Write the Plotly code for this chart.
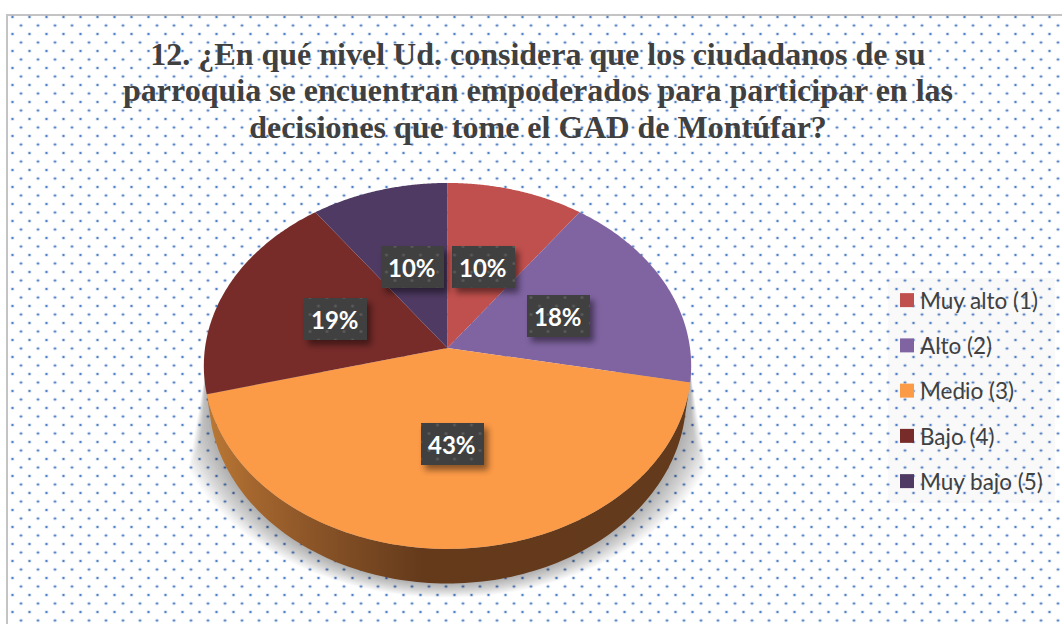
import base64
import numpy as np
import plotly.graph_objects as go

categories = ["Muy alto (1)", "Alto (2)", "Medio (3)", "Bajo (4)", "Muy bajo (5)"]
values = [10, 18, 43, 19, 10]
colors = ["#c0504d", "#8064a2", "#fb9a47", "#772c2a", "#4f3a63"]
title_lines = [
    "12. ¿En qué nivel Ud. considera que los ciudadanos de su",
    "parroquia se encuentran empoderados para participar en las",
    "decisiones que tome el GAD de Montúfar?",
]

# Tilted-disc projection of the pie (pixel-valued axes)
CX, CY = 447.5, 348.0
A, B, K = 242.5, 181.2, 0.098
WALL_DY, WALL_SX, WALL_SY = 30.6, 0.98, 1.02


def project(theta_deg, r=1.0):
    th = np.radians(theta_deg)
    u, v = r * np.sin(th), r * np.cos(th)
    w = 1 + K * v
    return A * u / w, B * v / w


def svg_uri(svg):
    return "data:image/svg+xml;base64," + base64.b64encode(svg.encode()).decode()


def dots(r, fill, opacity=1):
    return "".join(f"<circle cx='{x}' cy='{y}' r='{r}' fill='{fill}' opacity='{opacity}'/>"
                   for x, y in [(0, 0), (17, 0), (0, 17), (17, 17), (8.5, 8.5)])


def dot_svg(x0, y0, w, h):
    return f"""<svg xmlns='http://www.w3.org/2000/svg' width='{w}' height='{h}' viewBox='{x0} {y0} {w} {h}'>
<defs><pattern id='p' x='12.5' y='17' width='17' height='17' patternUnits='userSpaceOnUse'>
{dots(1.9, '#4472c4', .2)}{dots(1.05, '#3067b8')}
</pattern></defs><rect x='{x0}' y='{y0}' width='{w}' height='{h}' fill='url(#p)'/></svg>"""


def label_svg(bx, by, bw, bh, m=14):
    x0, y0, w, h = bx - m, by - m, bw + 2 * m, bh + 2 * m
    return f"""<svg xmlns='http://www.w3.org/2000/svg' width='{w}' height='{h}' viewBox='{x0} {y0} {w} {h}'>
<defs><filter id='b' x='-30%' y='-30%' width='160%' height='160%'><feGaussianBlur stdDeviation='3'/></filter>
<pattern id='d' x='12.5' y='17' width='17' height='17' patternUnits='userSpaceOnUse'>
{dots(1.5, '#5a5a5a')}</pattern></defs>
<rect x='{bx+4}' y='{by+5}' width='{bw}' height='{bh}' fill='#000' opacity='.45' filter='url(#b)'/>
<rect x='{bx}' y='{by}' width='{bw}' height='{bh}' fill='#404040'/>
<rect x='{bx}' y='{by}' width='{bw}' height='{bh}' fill='url(#d)'/></svg>"""


fig = go.Figure()

# Soft shadow under the disc: stacked translucent fills
edges = np.cumsum([0] + values) / sum(values) * 360
arc = np.linspace(edges[2], edges[3], 120)
ax_x, ax_y = project(arc)
low_x, low_y = ax_x * WALL_SX, ax_y * WALL_SY
LAYERS = 14
for i in range(LAYERS):
    f = (i + 1) / LAYERS
    sx = 1 + 0.16 * f
    sy = 1 + 0.075 * f
    px = CX + low_x * sx
    py = np.minimum(CY + WALL_DY + 18 + (-low_y - 18) * sy, 598)
    # the shadow narrows to a point at the two ends of the rim
    left = 205 - (py - 372) * 0.17 * f
    right = 690 + (py - 372) * 0.17 * f
    px = np.clip(px, left, right)
    px = np.concatenate([[CX + 243], px, [CX - 242]])
    py = np.concatenate([[372], py, [372]])
    fig.add_trace(go.Scatter(x=px, y=py, mode="none", fill="toself",
                             fillcolor="rgba(0,0,0,0.022)", showlegend=False, hoverinfo="skip"))

# Rim of the large slice
wall_x = np.concatenate([CX + ax_x, (CX + low_x)[::-1]])
wall_y = np.concatenate([CY - ax_y, (CY + WALL_DY - low_y)[::-1]])
fig.add_trace(go.Scatter(
    x=wall_x, y=wall_y, mode="none", fill="toself", showlegend=False, hoverinfo="skip",
    fillgradient=dict(type="horizontal", start=204, stop=692,
                      colorscale=[[0, "#bd7a35"], [0.1, "#a4662e"], [0.25, "#865126"],
                                  [0.45, "#643a1b"], [1, "#633a1b"]]),
))

# Slices
for i, (name, color) in enumerate(zip(categories, colors)):
    th = np.linspace(edges[i], edges[i + 1], 100)
    dx, dy = project(th)
    fig.add_trace(go.Scatter(
        x=np.concatenate([[CX], CX + dx, [CX]]), y=np.concatenate([[CY], CY - dy, [CY]]),
        mode="none", fill="toself", fillcolor=color, name=name, showlegend=False,
        hoverinfo="text", text=f"{name}: {values[i]}%",
    ))

# Legend entries
for name, color in zip(categories, colors):
    fig.add_trace(go.Scatter(x=[None], y=[None], mode="markers", name=name, legendgroup=name,
                             marker=dict(symbol="square", size=14, color=color)))

# Data labels
BW, BH = 63, 42
images = [dict(source=svg_uri(dot_svg(7, 15, 1055, 609)), xref="x", yref="y", x=7, y=15,
               sizex=1055, sizey=609, sizing="stretch", xanchor="left", yanchor="top", layer="below")]
annotations = []
mids = (edges[:-1] + edges[1:]) / 2
for v, m in zip(values, mids):
    dx, dy = project(m, 0.5)
    lx, ly = round(CX + float(dx)), round(CY + 1 - float(dy))
    bx, by = lx - BW // 2, ly - BH // 2
    mg = 14
    images.append(dict(source=svg_uri(label_svg(bx, by, BW, BH, mg)), xref="x", yref="y",
                       x=bx - mg, y=by - mg, sizex=BW + 2 * mg, sizey=BH + 2 * mg,
                       sizing="stretch", xanchor="left", yanchor="top", layer="above"))
    annotations.append(dict(x=lx, y=ly, xref="x", yref="y", text=f"<b>{v}%</b>", showarrow=False,
                            font=dict(family="Lato", size=24, color="white")))

fig.update_layout(
    width=1062, height=624, margin=dict(l=0, r=0, t=0, b=0),
    paper_bgcolor="white", plot_bgcolor="rgba(0,0,0,0)",
    xaxis=dict(range=[0, 1062], visible=False, fixedrange=True),
    yaxis=dict(range=[624, 0], visible=False, fixedrange=True),
    title=dict(text="<b>" + "<br>".join(title_lines) + "</b>", x=538 / 1062, xanchor="center",
               y=1 - 64.5 / 624, yanchor="top", xref="paper", yref="paper",
               font=dict(family="Liberation Serif", size=32, color="#404040")),
    legend=dict(x=880 / 1062, xanchor="left", y=1 - 279 / 624, yanchor="top",
                bgcolor="rgba(0,0,0,0)", borderwidth=0, traceorder="grouped", tracegroupgap=13,
                font=dict(family="Lato", size=22.5, color="#404040")),
    images=images,
    annotations=annotations,
    shapes=[
        dict(type="rect", xref="x", yref="y", x0=7, y0=15, x1=1075, y1=640,
             line=dict(color="#c4c4c4", width=2), fillcolor="rgba(0,0,0,0)", layer="below"),
        dict(type="rect", xref="x", yref="y", x0=888, y0=278, x1=1055, y1=503,
             line=dict(width=0), fillcolor="rgba(240,240,240,0.4)", layer="below"),
    ],
)

post = """
document.body.style.margin = '0';
document.querySelectorAll('.legend .legendpoints').forEach(function (g) {
  g.setAttribute('transform', 'translate(7,0)');
});
document.querySelectorAll('.gtitle .line').forEach(function (t, i) {
  t.setAttribute('dy', (i * 36.5) + 'px');
});
"""
fig.write_html("out.html", post_script=post, config={"displayModeBar": False})
